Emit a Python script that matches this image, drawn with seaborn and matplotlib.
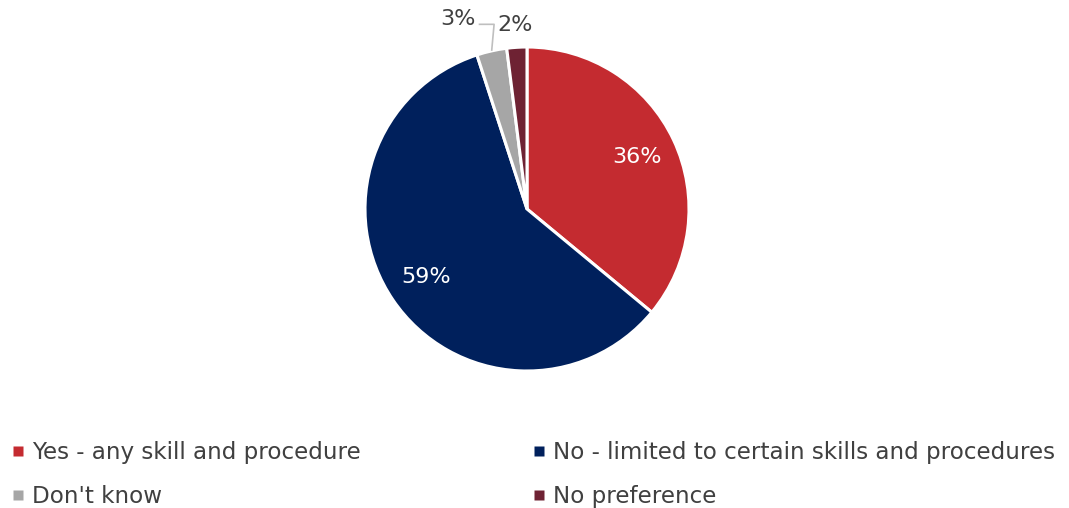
import numpy as np
import matplotlib
matplotlib.use("Agg")
import matplotlib.pyplot as plt
from matplotlib.lines import Line2D
import seaborn as sns

categories = [
    "Yes - any skill and procedure",
    "No - limited to certain skills and procedures",
    "Don't know",
    "No preference",
]
shares = [36, 59, 3, 2]
colors = ["#C42B30", "#00205C", "#A6A6A6", "#6E2233"]

sns.set_theme(style="white")
plt.rcParams["font.family"] = ["DejaVu Sans"]
text_color = "#404040"
label_size = 16

W, H = 1069, 508
fig = plt.figure(figsize=(W / 100, H / 100), dpi=100)

# pie axes: centre at (527, 209) px, radius 162 px
cx, cy, r = 527, 209, 162
ax = fig.add_axes([(cx - r) / W, (H - cy - r) / H, 2 * r / W, 2 * r / H])

wedges, texts, autotexts = ax.pie(
    shares,
    colors=colors,
    startangle=90,
    counterclock=False,
    autopct=lambda p: f"{p:.0f}%",
    pctdistance=0.75,
    wedgeprops=dict(edgecolor="white", linewidth=2.2),
    textprops=dict(color="white", fontsize=label_size),
)
ax.set_xlim(-1, 1)
ax.set_ylim(-1, 1)
ax.set_aspect("equal")
ax.axis("off")

# small slices get their labels outside the pie
for i in (2, 3):
    autotexts[i].set_visible(False)

def mid_angle(w):
    return np.deg2rad((w.theta1 + w.theta2) / 2)

# "No preference" label just above its slice
a = mid_angle(wedges[3])
ax.text(1.14 * np.cos(a), 1.14 * np.sin(a), f"{shares[3]}%", ha="center",
        va="center", fontsize=label_size, color=text_color, clip_on=False)

# "Don't know" label offset left with a leader line
a = mid_angle(wedges[2])
x0, y0 = np.cos(a), np.sin(a)
y_lbl = 1.14
ax.plot([x0, x0 + 0.015, x0 - 0.08], [y0, y_lbl, y_lbl], color="#BFBFBF",
        lw=1.2, clip_on=False, solid_capstyle="butt")
ax.text(x0 - 0.1, y_lbl + 0.03, f"{shares[2]}%", ha="right", va="center",
        fontsize=label_size, color=text_color, clip_on=False)

# legend, two columns, small square keys
order = [0, 2, 1, 3]
handles = [
    Line2D([], [], linestyle="none", marker="s", markersize=6.5,
           markerfacecolor=colors[i], markeredgecolor="none", label=categories[i])
    for i in order
]
fig.legend(
    handles=handles,
    loc="upper left",
    bbox_to_anchor=(12 / W, 1 - 441 / H),
    ncol=2,
    frameon=False,
    borderpad=0,
    borderaxespad=0,
    fontsize=16.6,
    handlelength=0.5,
    handletextpad=0.35,
    columnspacing=7.5,
    labelspacing=0.92,
    labelcolor=text_color,
)

fig.savefig("out.png", dpi=100, facecolor="white")
